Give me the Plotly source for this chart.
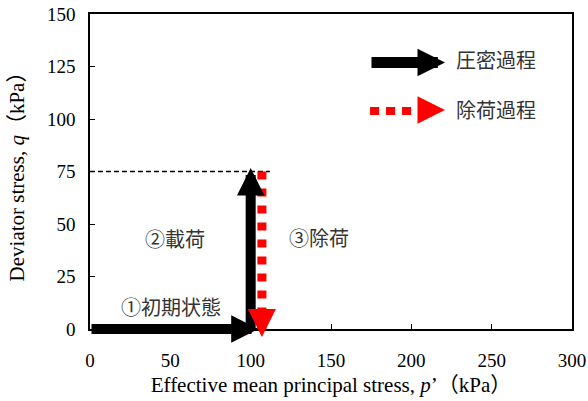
import plotly.graph_objects as go

# ---- data (kPa) ----
x_ticks = [0, 50, 100, 150, 200, 250, 300]
y_ticks = [0, 25, 50, 75, 100, 125, 150]
x_range = [0, 300]
y_range = [0, 150]

# consolidation (black) arrows: tail -> tip
consol_h_p = [0, 105]
consol_h_q = [0, 0]
loading_p = [100, 100]
loading_q = [0, 76.7]

# unloading (red dotted) path and arrow tip
unload_p = [107, 107]
unload_q = [75, 0]
unload_tip_q = -3.8

# reference dashed line at q = 75
ref_p = [0, 112]
ref_q = [75, 75]

legend_labels = ["圧密過程", "除荷過程"]
stage_labels = ["①初期状態", "②載荷", "③除荷"]

SERIF = "Liberation Serif, Times New Roman, Noto Sans CJK JP, serif"
JP = "Noto Sans CJK JP, sans-serif"
TXT = "#333333"

fig = go.Figure()

fig.add_trace(go.Scatter(x=ref_p, y=ref_q, mode="lines",
                         line=dict(color="black", width=1.4, dash="5px,3px"),
                         showlegend=False, hoverinfo="skip"))
fig.add_trace(go.Scatter(x=unload_p, y=unload_q, mode="lines",
                         line=dict(color="#ff0000", width=9, dash="8px,9px"),
                         showlegend=False, hoverinfo="skip"))

ann = []
# black arrows
ann.append(dict(x=consol_h_p[1], y=consol_h_q[1], ax=consol_h_p[0], ay=consol_h_q[0],
                xref="x", yref="y", axref="x", ayref="y", text="", showarrow=True,
                arrowhead=2, arrowwidth=10, arrowsize=0.55, arrowcolor="black"))
ann.append(dict(x=loading_p[1], y=loading_q[1], ax=loading_p[0], ay=loading_q[0],
                xref="x", yref="y", axref="x", ayref="y", text="", showarrow=True,
                arrowhead=2, arrowwidth=10, arrowsize=0.55, arrowcolor="black"))
# red arrow head (tip lies just below the axis -> place on paper fraction of y axis)
ann.append(dict(x=unload_p[1],
                y=(unload_tip_q - y_range[0]) / (y_range[1] - y_range[0]),
                ax=0, ay=-27, xref="x", yref="paper", text="", showarrow=True,
                arrowhead=2, arrowwidth=1, arrowsize=5.6, arrowcolor="#ff0000"))

# legend (drawn manually)
ann.append(dict(x=0.7365, y=0.846, ax=-75, ay=0, xref="paper", yref="paper",
                text="", showarrow=True, arrowhead=2, arrowwidth=11, arrowsize=0.5,
                arrowcolor="black"))
ann.append(dict(x=0.7365, y=0.695, ax=-27, ay=0, xref="paper", yref="paper",
                text="", showarrow=True, arrowhead=2, arrowwidth=1, arrowsize=5.5,
                arrowcolor="#ff0000"))
ann.append(dict(x=0.755, y=0.854, xref="paper", yref="paper", text=legend_labels[0],
                showarrow=False, xanchor="left", yanchor="middle",
                font=dict(family=JP, size=20, color=TXT)))
ann.append(dict(x=0.755, y=0.698, xref="paper", yref="paper", text=legend_labels[1],
                showarrow=False, xanchor="left", yanchor="middle",
                font=dict(family=JP, size=20, color=TXT)))

# stage labels
for txt, px, qy in zip(stage_labels, [50.4, 52.9, 142.5], [10.5, 43.3, 43.8]):
    ann.append(dict(x=px, y=qy, xref="x", yref="y", text=txt, showarrow=False,
                    xanchor="center", yanchor="middle",
                    font=dict(family=JP, size=20, color=TXT)))

shapes = [dict(type="line", xref="paper", yref="paper", x0=0.581, x1=0.685,
               y0=0.692, y1=0.692, line=dict(color="#ff0000", width=8, dash="9px,7px"))]

axis_common = dict(showgrid=False, zeroline=False, showline=True, mirror=True,
                   linecolor="black", linewidth=1.5, ticks="inside", ticklen=5,
                   tickwidth=1, tickcolor="black", automargin=False,
                   tickfont=dict(family=SERIF, size=19, color="black"))

fig.update_layout(
    width=588, height=401,
    margin=dict(l=90, r=16, t=14, b=72),
    plot_bgcolor="white", paper_bgcolor="white",
    showlegend=False,
    annotations=ann, shapes=shapes,
    xaxis=dict(range=x_range, tickvals=x_ticks, ticklabelstandoff=13,
               title=dict(text="Effective mean principal stress, <i>p</i>’（kPa）",
                          font=dict(family=SERIF, size=21, color="black"), standoff=8),
               **axis_common),
    yaxis=dict(range=y_range, tickvals=y_ticks, ticklabelstandoff=9,
               title=dict(text="Deviator stress, <i>q</i>（kPa）",
                          font=dict(family=SERIF, size=21, color="black"), standoff=17),
               **axis_common),
)

fig.write_html("out.html", config={"displayModeBar": False},
               post_script="document.body.style.margin='0';")
